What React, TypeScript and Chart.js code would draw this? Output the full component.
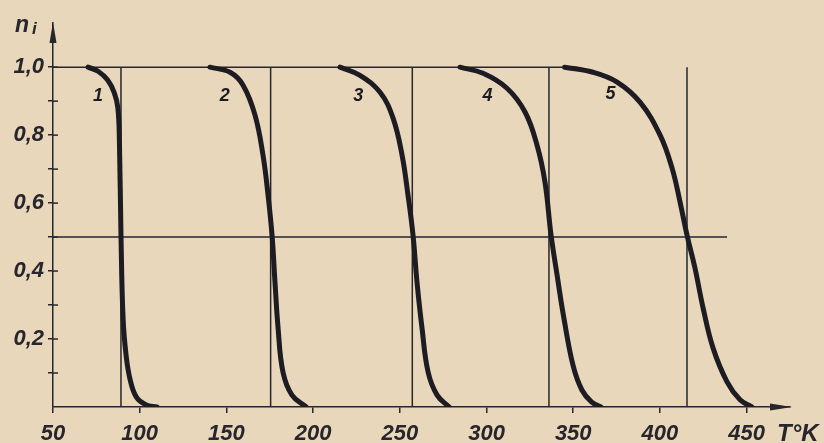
import { useEffect, useRef } from 'react';
import { Chart, registerables } from 'chart.js';

Chart.register(...registerables);

// ---- data ----
const curve1T = [70.2, 76, 81.5, 85.3, 87.4, 88.3, 89.2, 90.4, 92.2, 94.5, 98, 103.5, 110];
const curve1N = [1.0, 0.988, 0.962, 0.925, 0.88, 0.78, 0.506, 0.262, 0.15, 0.08, 0.03, 0.007, 0];

const curve2T = [140.5, 152.1, 159.6, 166.5, 171.1, 174, 176.3, 178, 179.8, 182.6, 187.8, 196];
const curve2N = [1.0, 0.985, 0.947, 0.859, 0.741, 0.624, 0.506, 0.368, 0.232, 0.103, 0.035, 0];

const curve3T = [215.5, 227, 238.6, 246.1, 251.3, 254.7, 257.6, 259.9, 262.8, 266.3, 271.5, 278.5];
const curve3N = [1.0, 0.976, 0.926, 0.85, 0.741, 0.624, 0.506, 0.368, 0.232, 0.103, 0.035, 0];

const curve4T = [284.7, 298, 311.8, 322.2, 329.1, 333.7, 337.2, 340.7, 344.6, 350, 355, 360.5, 366];
const curve4N = [1.0, 0.982, 0.938, 0.868, 0.771, 0.662, 0.506, 0.388, 0.262, 0.12, 0.05, 0.015, 0];

const curve5T = [345, 361.4, 375.3, 388.5, 400.1, 407, 411.6, 415.6, 420.2, 424.9, 430.6, 438.7, 446.2, 453];
const curve5N = [1.0, 0.985, 0.956, 0.897, 0.8, 0.703, 0.603, 0.506, 0.409, 0.291, 0.174, 0.074, 0.021, 0];

const curvesT = [curve1T, curve2T, curve3T, curve4T, curve5T];
const curvesN = [curve1N, curve2N, curve3N, curve4N, curve5N];

const curveNames = ['1', '2', '3', '4', '5'];
const curveLabelT = [76, 149, 226, 300.5, 371.5];
const curveLabelN = [0.915, 0.915, 0.915, 0.915, 0.92];

// vertical marker lines (T at n = 0.5) and horizontal reference levels
const markerT = [89.2, 175.5, 257.2, 336, 415.6];
const refLevels = [1.0, 0.5];
const refLevelEnds = [352, 438.7];

const xTicks = [50, 100, 150, 200, 250, 300, 350, 400, 450];
const xTickLabels = ['50', '100', '150', '200', '250', '300', '350', '400', '450'];
const yTicks = [0.1, 0.2, 0.3, 0.4, 0.5, 0.6, 0.7, 0.8, 0.9, 1.0];
const yTickLabels = ['', '0,2', '', '0,4', '', '0,6', '', '0,8', '', '1,0'];

const xAxisTitle = 'T°K';
const yAxisTitle = 'n';
const yAxisSub = 'i';

const PAPER = '#e8d7ba';
const INK = '#26262c';
const CURVE = '#1c1c22';
const FAMILY = "'Liberation Sans', Arial, sans-serif";

export default function App() {
  const ref = useRef<HTMLCanvasElement>(null);

  useEffect(() => {
    document.body.style.margin = '0';
    document.body.style.background = PAPER;
    const canvas = ref.current;
    if (!canvas) return;

    const datasets: any[] = [];
    curvesT.forEach((ts, k) => {
      datasets.push({
        data: ts.map((t, i) => ({ x: t, y: curvesN[k][i] })),
        borderColor: CURVE,
        borderWidth: 5,
        borderCapStyle: 'round',
        borderJoinStyle: 'round',
        tension: 0.4,
        pointRadius: 0,
        fill: false,
        order: 0,
      });
    });
    refLevels.forEach((lv, k) => {
      datasets.push({
        data: [{ x: 50, y: lv }, { x: refLevelEnds[k], y: lv }],
        borderColor: INK,
        borderWidth: 1.5,
        pointRadius: 0,
        tension: 0,
        order: 1,
      });
    });
    markerT.forEach((t) => {
      datasets.push({
        data: [{ x: t, y: 0 }, { x: t, y: 1.0 }],
        borderColor: INK,
        borderWidth: 1.5,
        pointRadius: 0,
        tension: 0,
        order: 1,
      });
    });

    const decor = {
      id: 'decor',
      afterDraw(chart: any) {
        const c = chart.ctx;
        const xs = chart.scales.x;
        const ys = chart.scales.y;
        const ax = xs.getPixelForValue(50);
        const ay = ys.getPixelForValue(0);
        c.save();
        c.fillStyle = INK;
        c.strokeStyle = INK;
        c.lineWidth = 1.5;
        // inner halves of y ticks
        yTicks.forEach((v) => {
          const py = ys.getPixelForValue(v);
          c.beginPath();
          c.moveTo(ax, py);
          c.lineTo(ax + 5, py);
          c.stroke();
        });
        // y arrow
        const top = chart.chartArea.top;
        c.beginPath();
        c.moveTo(ax, top - 1);
        c.lineTo(ax - 3.5, top + 20);
        c.lineTo(ax + 3.5, top + 20);
        c.closePath();
        c.fill();
        // x arrow
        const right = chart.chartArea.right;
        c.beginPath();
        c.moveTo(right + 2, ay);
        c.lineTo(right - 20, ay - 3.5);
        c.lineTo(right - 20, ay + 3.5);
        c.closePath();
        c.fill();
        // curve labels
        c.fillStyle = CURVE;
        c.font = `italic bold 18px ${FAMILY}`;
        c.textAlign = 'center';
        c.textBaseline = 'middle';
        curveNames.forEach((n, k) => {
          c.fillText(n, xs.getPixelForValue(curveLabelT[k]), ys.getPixelForValue(curveLabelN[k]));
        });
        // axis titles
        c.fillStyle = INK;
        c.textAlign = 'left';
        c.textBaseline = 'alphabetic';
        c.font = `italic bold 23px ${FAMILY}`;
        c.fillText(yAxisTitle, 15, 32);
        c.font = `italic bold 17px ${FAMILY}`;
        c.fillText(yAxisSub, 32, 34);
        c.font = `italic bold 24px ${FAMILY}`;
        c.fillText(xAxisTitle, 777, 441);
        c.restore();
      },
    };

    const tickFont = { family: FAMILY, size: 22, style: 'italic' as const, weight: 'bold' as const };

    const chart = new Chart(canvas, {
      type: 'line',
      data: { datasets },
      options: {
        animation: false,
        responsive: false,
        devicePixelRatio: 1,
        layout: { padding: { top: 23, right: 34, left: 0, bottom: 0 } },
        plugins: { legend: { display: false }, tooltip: { enabled: false } },
        elements: { point: { radius: 0 } },
        scales: {
          x: {
            type: 'linear',
            min: 50,
            max: 475,
            afterBuildTicks: (s: any) => {
              s.ticks = xTicks.map((v) => ({ value: v }));
            },
            afterFit: (s: any) => {
              s.height = 36;
            },
            grid: { drawOnChartArea: false, drawTicks: true, tickLength: 6, color: INK, lineWidth: 1.5 },
            border: { display: true, color: INK, width: 1.5 },
            ticks: {
              font: tickFont,
              color: INK,
              padding: 8,
              maxRotation: 0,
              autoSkip: false,
              callback: (_v: any, i: number) => xTickLabels[i],
            },
          },
          y: {
            type: 'linear',
            min: 0,
            max: 1.13,
            afterBuildTicks: (s: any) => {
              s.ticks = yTicks.map((v) => ({ value: v }));
            },
            afterFit: (s: any) => {
              s.width = 53;
            },
            grid: { drawOnChartArea: false, drawTicks: true, tickLength: 5, color: INK, lineWidth: 1.5 },
            border: { display: true, color: INK, width: 1.5 },
            ticks: {
              font: tickFont,
              color: INK,
              padding: 4,
              autoSkip: false,
              callback: (_v: any, i: number) => yTickLabels[i],
            },
          },
        },
      },
      plugins: [decor],
    } as any);

    return () => chart.destroy();
  }, []);

  return (
    <div style={{ width: 824, height: 443, background: PAPER }}>
      <canvas ref={ref} width={824} height={443} style={{ display: 'block' }} />
    </div>
  );
}
